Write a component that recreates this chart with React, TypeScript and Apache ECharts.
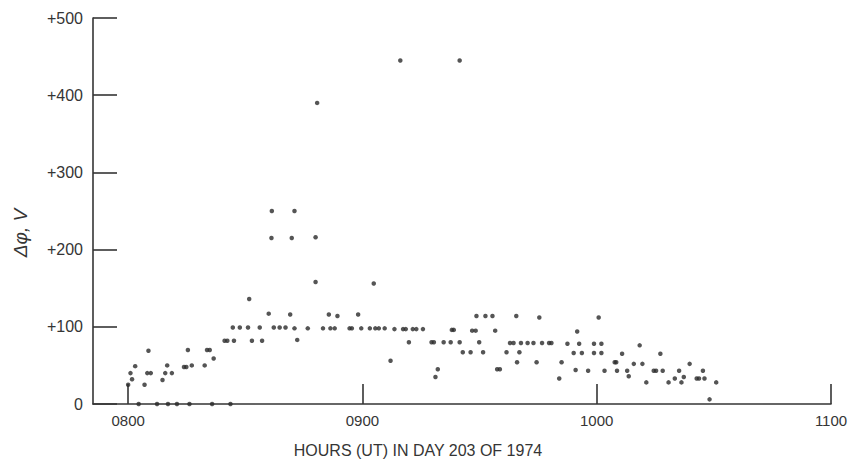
import React, { useEffect, useRef } from "react";
import * as echarts from "echarts";

// Time of each sample, minutes after 0000 UT (day 203, 1974)
const timeMinutes: number[] = [
  480.0, 480.6, 481.0, 481.8, 482.7, 484.2, 484.9, 485.2, 485.8, 487.4,
  488.8, 489.5, 490.0, 490.2, 491.2, 492.5, 494.3, 494.9, 495.3, 495.7,
  496.3, 499.6, 500.2, 500.9, 501.5, 501.9, 504.7, 505.4, 506.2, 506.8,
  507.1, 508.6, 510.7, 511.0, 511.7, 513.7, 514.3, 516.0, 516.7, 516.8,
  517.3, 518.8, 520.3, 521.5, 521.9, 522.6, 522.6, 523.3, 526.0, 528.0,
  528.0, 528.4, 529.9, 531.4, 531.8, 532.9, 533.6, 536.7, 537.3, 538.9,
  539.7, 541.9, 542.9, 543.3, 544.2, 545.7, 547.2, 548.2, 549.7, 550.4,
  551.1, 551.9, 552.9, 553.8, 555.5, 557.7, 558.3, 558.7, 559.3, 560.8,
  562.6, 562.9, 563.4, 564.9, 564.9, 565.7, 567.7, 568.1, 569.0, 569.2,
  569.9, 570.9, 571.5, 573.3, 574.0, 574.5, 575.2, 576.9, 577.8, 578.7,
  579.4, 579.6, 580.2, 580.6, 582.3, 583.8, 584.6, 585.3, 586.0, 587.8,
  588.4, 590.4, 591.0, 592.5, 594.1, 594.6, 595.0, 595.5, 596.2, 597.8,
  599.3, 599.3, 600.5, 601.2, 601.2, 602.0, 604.6, 605.0, 605.2, 606.5,
  607.8, 608.2, 609.5, 611.0, 611.7, 612.7, 614.6, 615.2, 616.3, 616.9,
  618.4, 620.0, 621.1, 621.7, 622.3, 623.8, 625.6, 626.2, 627.2, 627.6,
  628.9, 630.6,
];

// Potential difference Δφ, volts
const deltaPhi: number[] = [
  25, 40, 32, 49, 0, 25, 40, 69, 40, 0,
  31, 40, 50, 0, 40, 0, 48, 48, 70, 0,
  50, 50, 70, 70, 0, 59, 82, 82, 0, 99,
  82, 99, 99, 136, 82, 99, 82, 117, 215, 250,
  99, 99, 99, 116, 215, 250, 98, 83, 98, 216,
  158, 390, 98, 116, 98, 98, 114, 98, 98, 116,
  98, 98, 156, 98, 98, 98, 56, 97, 445, 97,
  97, 80, 97, 97, 97, 80, 80, 35, 45, 80,
  80, 96, 96, 445, 80, 67, 67, 95, 95, 114,
  80, 67, 114, 114, 95, 45, 45, 67, 79, 79,
  114, 54, 67, 79, 79, 79, 54, 112, 79, 79,
  79, 33, 54, 78, 66, 44, 94, 78, 66, 43,
  78, 66, 112, 78, 66, 43, 54, 54, 43, 65,
  43, 36, 52, 76, 52, 28, 43, 43, 65, 43,
  28, 33, 43, 28, 35, 52, 33, 33, 43, 33,
  6, 28,
];

const xTickMinutes: number[] = [480, 540, 600, 660];
const yTicks: number[] = [0, 100, 200, 300, 400, 500];

const xAxisTitle = "HOURS (UT) IN DAY 203 OF 1974";
const yAxisTitle = "Δφ, V";

const INK = "#353535";
const FONT = "'Liberation Sans', Arial, sans-serif";

export default function App() {
  const ref = useRef<HTMLDivElement>(null);

  useEffect(() => {
    if (!ref.current) return;
    const chart = echarts.init(ref.current, undefined, { renderer: "svg" });
    const points = timeMinutes.map((t, i) => [t, deltaPhi[i]]);
    const fmtTime = (v: number) => {
      const h = Math.floor(v / 60);
      const m = Math.round(v - h * 60);
      return String(h).padStart(2, "0") + String(m).padStart(2, "0");
    };
    chart.setOption({
      animation: false,
      backgroundColor: "#ffffff",
      grid: { left: 93, right: 22, top: 18, bottom: 61 },
      xAxis: {
        type: "value",
        min: 471,
        max: 660,
        splitLine: { show: false },
        axisLine: { show: true, onZero: false, lineStyle: { color: INK, width: 1.6 } },
        axisTick: {
          show: true,
          inside: true,
          length: 20,
          customValues: xTickMinutes,
          lineStyle: { color: INK, width: 1.6 },
        },
        axisLabel: {
          customValues: xTickMinutes,
          formatter: (v: number) => fmtTime(v),
          color: INK,
          fontFamily: FONT,
          fontSize: 15,
          margin: 9,
        },
      },
      yAxis: {
        type: "value",
        min: 0,
        max: 500,
        interval: 100,
        splitLine: { show: false },
        axisLine: { show: true, lineStyle: { color: INK, width: 1.6 } },
        axisTick: {
          show: true,
          inside: true,
          length: 24,
          lineStyle: { color: INK, width: 1.6 },
        },
        axisLabel: {
          formatter: (v: number) => (yTicks.includes(v) && v !== 0 ? "+" + v : String(v)),
          color: INK,
          fontFamily: FONT,
          fontSize: 16,
          margin: 10,
        },
      },
      graphic: [
        {
          type: "text",
          x: 418,
          y: 450,
          style: {
            text: xAxisTitle,
            fill: INK,
            font: "16px " + FONT,
            align: "center",
            verticalAlign: "middle",
          },
        },
        {
          type: "text",
          x: 20,
          y: 233,
          rotation: Math.PI / 2,
          style: {
            text: yAxisTitle,
            fill: INK,
            font: "italic 19px " + FONT,
            align: "center",
            verticalAlign: "middle",
          },
        },
      ],
      series: [
        {
          type: "scatter",
          data: points,
          symbol: "circle",
          symbolSize: 4.5,
          itemStyle: { color: "#2a2a2a" },
        },
      ],
    });
    return () => chart.dispose();
  }, []);

  return (
    <div
      ref={ref}
      style={{ width: 853, height: 465, position: "absolute", left: 0, top: 0 }}
    />
  );
}
